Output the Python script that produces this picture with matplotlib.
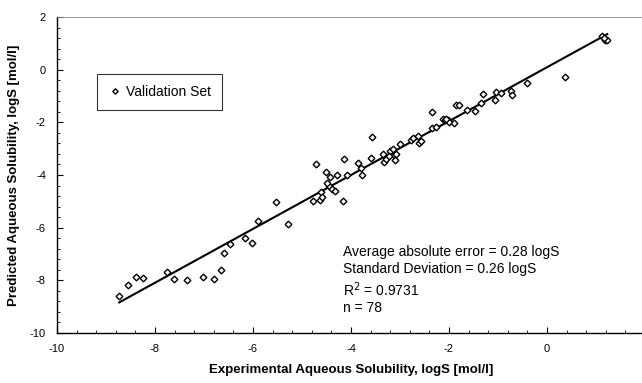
import numpy as np
import matplotlib
matplotlib.use("Agg")
import matplotlib.pyplot as plt
from matplotlib.ticker import MultipleLocator

plt.rcParams['font.family'] = ['Liberation Sans', 'DejaVu Sans']
plt.rcParams['axes.unicode_minus'] = False

# experimental vs predicted logS (validation set)
exp_logS = [-8.73, -8.55, -8.39, -8.24, -7.75, -7.61, -7.35, -7.02, -6.80, -6.65,
            -6.60, -6.46, -6.16, -6.03, -5.90, -5.53, -5.28, -4.77, -4.72, -4.64,
            -4.62, -4.60, -4.51, -4.45, -4.42, -4.38, -4.32, -4.28, -4.17, -4.15,
            -4.09, -3.86, -3.80, -3.78, -3.59, -3.58, -3.34, -3.32, -3.29, -3.20,
            -3.15, -3.12, -3.10, -3.00, -2.78, -2.74, -2.64, -2.61, -2.57, -2.34,
            -2.35, -2.27, -2.12, -2.08, -2.03, -2.00, -1.89, -1.85, -1.79, -1.64,
            -1.47, -1.35, -1.30, -1.05, -1.06, -0.94, -0.74, -0.71, -0.40, 0.36,
            1.13, 1.18, 1.23, 1.16, -3.22, -3.08, -2.06, -4.48]
pred_logS = [-8.61, -8.18, -7.87, -7.93, -7.67, -7.95, -7.99, -7.89, -7.95, -7.61,
             -6.96, -6.61, -6.41, -6.58, -5.76, -5.01, -5.85, -4.99, -3.60, -4.96,
             -4.63, -4.82, -3.88, -4.42, -4.06, -4.54, -4.61, -4.00, -4.99, -3.41,
             -4.00, -3.56, -3.75, -4.00, -3.37, -2.57, -3.21, -3.50, -3.40, -3.08,
             -3.01, -3.24, -3.42, -2.82, -2.66, -2.61, -2.53, -2.79, -2.70, -1.61,
             -2.23, -2.16, -1.87, -1.90, -1.93, -1.97, -2.03, -1.34, -1.34, -1.52,
             -1.58, -1.26, -0.94, -0.85, -1.15, -0.89, -0.81, -0.95, -0.51, -0.28,
             1.29, 1.12, 1.11, 1.22, -3.28, -3.20, -1.88, -4.30]

stats_lines = ["Average absolute error = 0.28 logS",
               "Standard Deviation = 0.26 logS",
               "R$^2$ = 0.9731",
               "n = 78"]

x = np.array(exp_logS)
y = np.array(pred_logS)

fig = plt.figure(figsize=(6.42, 3.83), dpi=100)
ax = fig.add_axes([57/642, 50/383, 588/642, 316/383])

# regression line over the data range
slope, intercept = np.polyfit(x, y, 1)
xl = np.array([x.min(), x.max()])
ax.plot(xl, slope*xl + intercept, color='black', lw=1.5, zorder=2)

ax.plot(x, y, linestyle='none', marker='D', markersize=3.4, markerfacecolor='white',
        markeredgecolor='black', markeredgewidth=1.0, label='Validation Set', zorder=3)

ax.set_xlim(-10, 2)
ax.set_ylim(-10, 2)
ax.xaxis.set_major_locator(MultipleLocator(2))
ax.yaxis.set_major_locator(MultipleLocator(2))
ax.xaxis.set_minor_locator(MultipleLocator(0.4))
ax.yaxis.set_minor_locator(MultipleLocator(0.4))
ax.tick_params(which='both', direction='in', labelsize=8, colors='black')
ax.tick_params(which='major', length=4, width=0.8, pad=8)
ax.tick_params(which='minor', length=2, width=0.6)

ax.spines['right'].set_visible(False)
ax.spines['top'].set_color('#888888')
ax.spines['top'].set_linestyle((0, (3, 1)))
ax.spines['top'].set_linewidth(0.6)
ax.spines['left'].set_linewidth(1.0)
ax.spines['bottom'].set_linewidth(1.0)

ax.set_xlabel("Experimental Aqueous Solubility, logS [mol/l]", fontsize=9.5,
              fontweight='bold', labelpad=7)
ax.set_ylabel("Predicted Aqueous Solubility, logS [mol/l]", fontsize=9.5,
              fontweight='bold', labelpad=7)

leg = ax.legend(loc='upper left', bbox_to_anchor=(0.068, 0.82), fontsize=10,
                frameon=True, fancybox=False, handletextpad=0.3, borderpad=0.8,
                handlelength=1.0, borderaxespad=0, markerscale=0.8)
leg.get_frame().set_edgecolor('black')
leg.get_frame().set_linewidth(0.8)

ax.text(0.486, 0.277, "\n".join(stats_lines), transform=ax.transAxes, fontsize=10,
        va='top', ha='left', linespacing=1.25)

fig.savefig("out.png", dpi=100)
